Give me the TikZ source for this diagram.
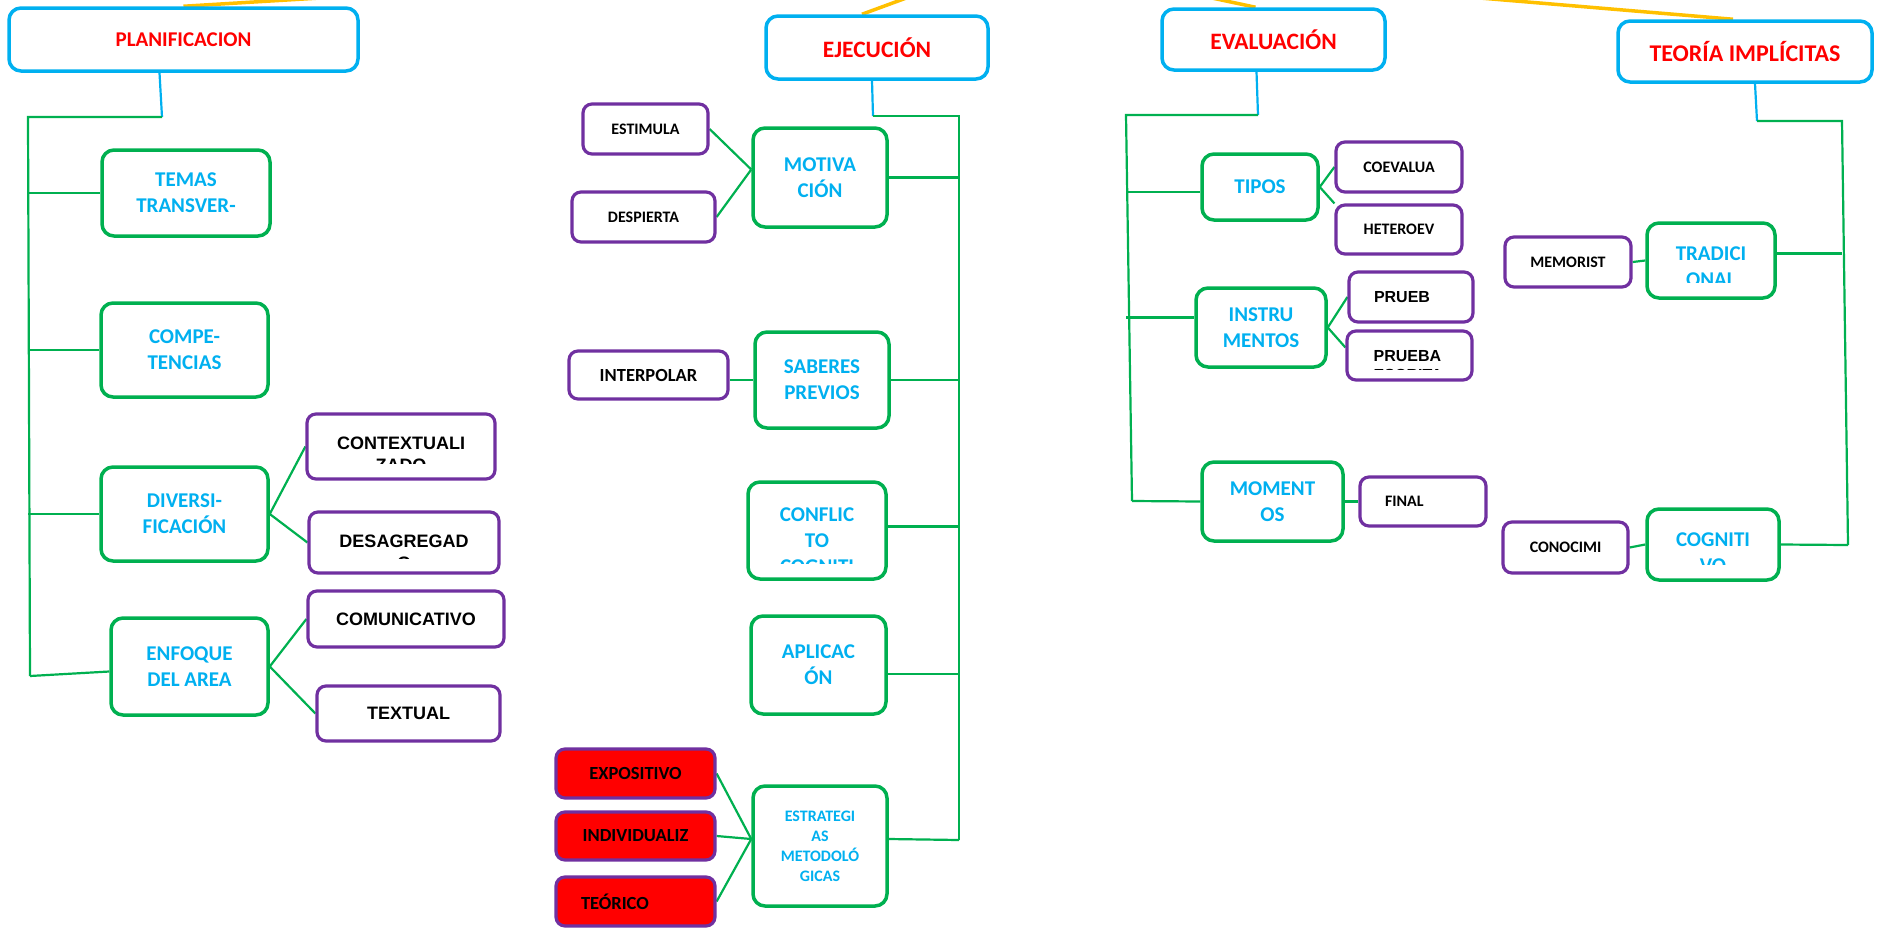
\documentclass[tikz,border=0pt]{standalone}
\usepackage{fontspec}
\setmainfont{Carlito}
\newfontfamily\arialfont{Liberation Sans}
\usetikzlibrary{backgrounds}
\definecolor{mycyan}{HTML}{00B0F0}
\definecolor{myred}{HTML}{FF0000}
\definecolor{mygreen}{HTML}{00B050}
\definecolor{mypurple}{HTML}{7030A0}
\definecolor{myyellow}{HTML}{FFC000}
\newcommand\boxfont[2]{\fontsize{#1}{#2}\selectfont\bfseries}
\tikzstyle{box}=[draw,rounded corners=12pt,line width=3.5pt,fill=white,inner sep=0pt,align=center]
\tikzstyle{title}=[box,draw=mycyan,text=myred,font=\boxfont{23.5}{28}]
\tikzstyle{topic}=[box,draw=mygreen,text=mycyan,font=\boxfont{21}{26}]
\tikzstyle{leaf}=[box,rounded corners=9pt,line width=3.2pt,draw=mypurple,text=black,font=\boxfont{16}{20}]
\tikzstyle{leaf arial}=[leaf,font=\arialfont\boxfont{18}{22}]
\tikzstyle{hot}=[leaf,fill=myred,font=\boxfont{18.5}{22}]
\tikzstyle{branch}=[mygreen,line width=2.2pt]
\tikzstyle{stem}=[mycyan,line width=2.2pt]
\tikzstyle{spoke}=[myyellow,line width=3.5pt]
\tikzset{
  lft/.style={align=left,text width=#1,inner xsep=25pt}, % left set text, 25pt from the border
  cut text/.style n args={4}{% text that runs out of its box: top offset, cut above bottom, options, text
    path picture={
      \clip (path picture bounding box.north west) rectangle ([yshift=#2]path picture bounding box.south east);
      \node[anchor=north,inner sep=0pt,minimum width=0pt,minimum height=0pt,align=center,#3]
        at ([yshift=-#1]path picture bounding box.north) {#4};
    }},
}

\begin{document}
\begin{tikzpicture}[x=1pt,y=-1pt]
  \useasboundingbox (0,0) rectangle (1885,927);

  % TITLES
  \node[title,minimum width=349,minimum height=63,font=\boxfont{21}{25}] (plan) at (183.5,39.5) {PLANIFICACION};
  \node[title,minimum width=222,minimum height=63] (ejec) at (877,47.5) {EJECUCIÓN};
  \node[title,minimum width=223,minimum height=61] (eval) at (1273.5,39.5) {EVALUACIÓN};
  \node[title,minimum width=254,minimum height=61,font=\boxfont{24}{28}] (teor) at (1745,51.5) {TEORÍA IMPLÍCITAS};

  % PLANIFICACION
  \node[topic,minimum width=168,minimum height=86] (temas) at (186,193) {TEMAS\\TRANSVER-};
  \node[topic,minimum width=167,minimum height=94] (compe) at (184.5,350) {COMPE-\\TENCIAS};
  \node[topic,minimum width=167,minimum height=94] (diver) at (184.5,514) {DIVERSI-\\FICACIÓN};
  \node[topic,minimum width=157,minimum height=97] (enfoq) at (189.5,666.5) {ENFOQUE\\DEL AREA};
  \node[leaf arial,minimum width=188,minimum height=65,
        cut text={21pt}{16pt}{font=\arialfont\boxfont{18}{22}}{CONTEXTUALI\\ZADO}] (context) at (401,446.5) {};
  \node[leaf arial,minimum width=190,minimum height=61,
        cut text={21pt}{15pt}{font=\arialfont\boxfont{18}{22}}{DESAGREGAD\\O}] (desag) at (404,542.5) {};
  \node[leaf arial,minimum width=196,minimum height=56] (comun) at (406,619) {COMUNICATIVO};
  \node[leaf arial,minimum width=183,minimum height=55] (textual) at (408.5,713.5) {TEXTUAL};

  % EJECUCION
  \node[topic,minimum width=134,minimum height=99] (motiv) at (820,177.5) {MOTIVA\\CIÓN};
  \node[topic,minimum width=134,minimum height=96] (saber) at (822,380) {SABERES\\PREVIOS};
  \node[topic,minimum width=138,minimum height=97,
        cut text={24pt}{16pt}{text=mycyan,font=\boxfont{21}{26}}{CONFLIC\\TO\\COGNITI}] (confl) at (817,530.5) {};
  \node[topic,minimum width=135,minimum height=98] (aplic) at (818.5,665) {APLICAC\\ÓN};
  \node[topic,minimum width=134,minimum height=120,font=\boxfont{16}{20}] (estra) at (820,846) {ESTRATEGI\\AS\\METODOLÓ\\GICAS};
  \node[leaf,minimum width=125,minimum height=50] (estim) at (645.5,129) {ESTIMULA};
  \node[leaf,minimum width=143,minimum height=50] (desp) at (643.5,217) {DESPIERTA};
  \node[leaf,minimum width=159,minimum height=48,font=\boxfont{18.5}{22}] (interp) at (648.5,375) {INTERPOLAR};
  \node[hot,minimum width=159,minimum height=49] (expo) at (635.5,773.5) {EXPOSITIVO};
  \node[hot,minimum width=159,minimum height=48] (indiv) at (635.5,836) {INDIVIDUALIZ};
  \node[hot,lft=109,minimum height=49] (teori) at (635.5,901.5) {TEÓRICO};

  % EVALUACION
  \node[topic,minimum width=116,minimum height=66] (tipos) at (1260,187) {TIPOS};
  \node[topic,minimum width=130,minimum height=79] (instr) at (1261,327.5) {INSTRU\\MENTOS};
  \node[topic,minimum width=141,minimum height=79] (mome) at (1272.5,501.5) {MOMENT\\OS};
  \node[leaf,minimum width=126,minimum height=50] (coeva) at (1399,167) {COEVALUA};
  \node[leaf,minimum width=126,minimum height=49] (heter) at (1399,229.5) {HETEROEV};
  \node[leaf arial,lft=74,minimum height=50,font=\arialfont\boxfont{16}{20}] (prueb) at (1411,297) {PRUEB};
  \node[leaf arial,minimum width=125,minimum height=49,
        cut text={18pt}{11pt}{anchor=north west,xshift=-37.5pt,align=left,font=\arialfont\boxfont{16}{19}}{PRUEBA\\ESCRITA}] (prueba) at (1409.5,355.5) {};
  \node[leaf,lft=76,minimum height=49] (final) at (1423,501.5) {FINAL};

  % TEORIA IMPLICITAS
  \node[topic,minimum width=128,minimum height=75,
        cut text={22pt}{16pt}{text=mycyan,font=\boxfont{21}{26}}{TRADICI\\ONAL}] (tradi) at (1711,260.5) {};
  \node[topic,minimum width=132,minimum height=71,
        cut text={22pt}{16pt}{text=mycyan,font=\boxfont{21}{26}}{COGNITI\\VO}] (cogni) at (1713,544.5) {};
  \node[leaf,minimum width=126,minimum height=50] (memor) at (1568,262) {MEMORIST};
  \node[leaf,minimum width=125,minimum height=51] (conoc) at (1565.5,547.5) {CONOCIMI};

  % TRUNK CORNERS AND FREE ENDS
  \coordinate (planK) at (162,117); % under PLANIFICACION
  \coordinate (planT) at (28,117);
  \coordinate (planB) at (30,676);
  \coordinate (ejecK) at (873,116); % under EJECUCION
  \coordinate (ejecT) at (959,116);
  \coordinate (ejecB) at (959,840);
  \coordinate (evalK) at (1258,115); % under EVALUACION
  \coordinate (evalT) at (1126,115);
  \coordinate (evalB) at (1132,501);
  \coordinate (teorK) at (1757,121); % under TEORIA
  \coordinate (teorT) at (1842,121);
  \coordinate (teorB) at (1848,545);
  \coordinate (planY) at (320,-2); % yellow lines leave the page
  \coordinate (ejecY) at (909,-3);
  \coordinate (evalY) at (1212,-2);
  \coordinate (teorY) at (1480,-2);

  \begin{scope}[on background layer]
    % YELLOW LINES
    \draw[spoke] (plan.north) -- (planY);
    \draw[spoke] ([xshift=-15pt]ejec.north) -- (ejecY);
    \draw[spoke] ([xshift=-18pt]eval.north) -- (evalY);
    \draw[spoke] ([xshift=-12pt]teor.north) -- (teorY);

    % STEMS
    \draw[stem] ([xshift=-24pt]plan.south) -- (planK);
    \draw[stem] ([xshift=-5pt]ejec.south) -- (ejecK);
    \draw[stem] ([xshift=-17pt]eval.south) -- (evalK);
    \draw[stem] ([xshift=10pt]teor.south) -- (teorK);

    % PLANIFICACION BRANCHES
    \draw[branch] (planK) -- (planT) -- (planB);
    \draw[branch] (planT |- temas.west) -- (temas.west);
    \draw[branch] (planT |- compe.west) -- (compe.west);
    \draw[branch] (planT |- diver.west) -- (diver.west);
    \draw[branch] (planB) -- ([yshift=-5pt]enfoq.west);
    \draw[branch] (diver.east) -- (context.west);
    \draw[branch] (diver.east) -- (desag.west);
    \draw[branch] (enfoq.east) -- (comun.west);
    \draw[branch] (enfoq.east) -- (textual.west);

    % EJECUCION BRANCHES
    \draw[branch] (ejecK) -- (ejecT) -- (ejecB);
    \draw[branch] (motiv.east) -- (motiv.east -| ejecT);
    \draw[branch] (saber.east) -- (saber.east -| ejecT);
    \draw[branch] ([yshift=4pt]confl.east) -- ([yshift=4pt]confl.east -| ejecT);
    \draw[branch] ([yshift=-9pt]aplic.east) -- ([yshift=-9pt]aplic.east -| ejecT);
    \draw[branch] ([yshift=7pt]estra.east) -- (ejecB);
    \draw[branch] (estim.east) -- ([yshift=8pt]motiv.west);
    \draw[branch] (desp.east) -- ([yshift=8pt]motiv.west);
    \draw[branch] (saber.west) -- (saber.west -| interp.east);
    \draw[branch] (expo.east) -- ([yshift=7pt]estra.west);
    \draw[branch] (indiv.east) -- ([yshift=7pt]estra.west);
    \draw[branch] (teori.east) -- ([yshift=7pt]estra.west);

    % EVALUACION BRANCHES
    \draw[branch] (evalK) -- (evalT) -- (evalB);
    \draw[branch] ([yshift=-5pt]tipos.west -| evalT) -- ([yshift=-5pt]tipos.west);
    \draw[branch] ([yshift=10pt]instr.west -| evalT) -- ([yshift=10pt]instr.west);
    \draw[branch] (evalB) -- (mome.west);
    \draw[branch] (tipos.east) -- (coeva.west);
    \draw[branch] (tipos.east) -- (heter.north west);
    \draw[branch] (instr.east) -- (prueb.west);
    \draw[branch] (instr.east) -- ([yshift=8pt]prueba.west);
    \draw[branch] (mome.east) -- (final.west);

    % TEORIA BRANCHES
    \draw[branch] (teorK) -- (teorT) -- (teorB);
    \draw[branch] ([yshift=7pt]tradi.east) -- ([yshift=7pt]tradi.east -| teorT);
    \draw[branch] (cogni.east) -- (teorB);
    \draw[branch] (memor.east) -- (tradi.west);
    \draw[branch] (conoc.east) -- (cogni.west);
  \end{scope}
\end{tikzpicture}
\end{document}
